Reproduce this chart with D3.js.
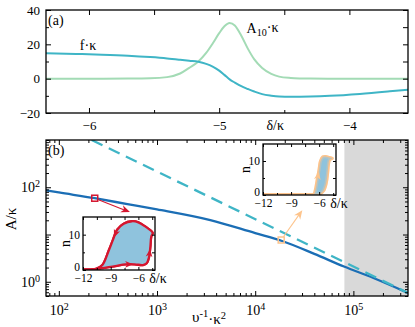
<!DOCTYPE html>
<html>
<head>
<meta charset="utf-8">
<script src="https://cdn.jsdelivr.net/npm/d3@7"></script>
<style>
  body { margin: 0; background: #fff; }
  svg { display: block; font-family: "Liberation Serif", "DejaVu Serif", serif; }
</style>
</head>
<body>
<svg id="chart" width="415" height="327"></svg>
<script>
// ---- panel (a): response vs detuning
const deltaA = [-6.33, -6.1, -5.9, -5.7, -5.53, -5.4, -5.3, -5.23, -5.16, -5.1, -5.05, -5.0, -4.96, -4.92,
                -4.88, -4.83, -4.78, -4.73, -4.67, -4.6, -4.54, -4.45, -4.38, -4.3, -4.15, -3.92, -3.69, -3.55];
const fKappa = [14.8, 14.4, 14.0, 13.4, 12.6, 11.8, 11.0, 10.4, 9.8, 8.6, 7.0, 4.7, 2.2, -0.4,
                -2.3, -4.4, -6.0, -7.5, -9.0, -9.9, -10.4, -10.6, -10.5, -10.4, -10.0, -8.9, -7.4, -6.4];
const a10Kappa = [0, 0, 0, 0.05, 0.2, 0.9, 3.0, 6.3, 10.0, 15.0, 20.5, 26.5, 30.5, 32.4,
                  31.0, 25.0, 17.5, 11.2, 6.2, 2.8, 1.2, 0.4, 0.15, 0.05, 0, 0, 0, 0];
const xTicksA = [-6, -5, -4];
const xMinorA = [-5.5, -4.5];
const yTicksA = [-20, 0, 20, 40];
const yMinorA = [-10, 10, 30];

// ---- panel (b): amplitude vs sweep time
const vSolid = [74, 100, 232, 500, 1000, 3490, 10000, 18800, 40000, 80200, 160000, 360000];
const aSolid = [86, 77.6, 58.6, 44, 34, 20.2, 10.7, 7.3, 3.9, 2.1, 1.2, 0.58];
const vDash = [216, 360000];
const aDash = [1000, 0.58];
const grayStart = 81000;
const xTicksB = [1e2, 1e3, 1e4, 1e5];
const yTicksB = [1, 10, 100];
const yLabelsB = [1, 100];

// markers on the solid curve and where their arrows point
const redMark = {v: 232, a: 58.6, tv: 530, ta: 29.8};
const orangeMark = {v: 18400, a: 7.65, tv: 30200, ta: 32.8};

// ---- insets: hysteresis loops n(delta)
const loop1Delta = [-12, -11.2, -10.6, -10.0, -9.5, -8.5, -7.4, -6.4, -5.5, -5.1, -4.85, -4.7, -4.6, -4.45,
                    -5.3, -6.0, -6.7, -7.6, -8.3, -8.75, -9.2, -9.9, -10.6, -11.2, -12];
const loop1N = [0.2, 0.2, 0.3, 0.5, 0.7, 1.1, 1.6, 1.6, 1.4, 1.9, 3.6, 6.6, 9.5, 10.5,
                12.4, 13.5, 13.8, 13.1, 11.4, 8.6, 5.6, 1.4, 0.3, 0.2, 0.2];
const loop1Arrows = [6, 10, 18];
const loop2Delta = [-12, -9, -6.6, -6.4, -6.2, -6.0, -5.85, -5.6, -5.3, -4.9, -4.6,
                    -4.9, -5.0, -5.1, -5.25, -5.55, -6.0, -6.6, -9, -12];
const loop2N = [0.1, 0.1, 0.1, 1.5, 4.5, 7.5, 10.0, 11.2, 11.3, 11.0, 10.8,
                10.3, 9.2, 6.5, 3.5, 1.2, 0.2, 0.1, 0.1, 0.1];
const loop2Arrows = [4];
const insetXTicks = [-12, -9, -6];
const insetYTicks = [0, 10];

const teal = '#3fb5c6', green = '#a3dbb5', blue = '#1b6eb5', red = '#d5162f', orange = '#fdc48c', fillBlue = '#8fc3dd';

const svg = d3.select('#chart');

function styleAxis(g, size) {
  g.attr('font-family', null).attr('font-size', size);
  g.select('.domain').remove();
  g.selectAll('.tick line').attr('stroke', '#000').attr('stroke-width', 1);
  g.selectAll('.tick text').attr('fill', '#000');
}
function powText(text, exp) {
  text.text(null);
  text.append('tspan').text('10');
  text.append('tspan').attr('dy', '-0.5em').attr('font-size', '0.72em').text(exp);
}
function arrowHead(g, x, y, ang, col, s) {
  g.append('path')
    .attr('d', `M0,0 L${-s},${-s * 0.42} L${-s * 0.7},0 L${-s},${s * 0.42} Z`)
    .attr('transform', `translate(${x},${y}) rotate(${ang * 180 / Math.PI})`)
    .attr('fill', col);
}

// ================= panel (a)
const pa = {l: 46, r: 408, t: 10, b: 113};
const xA = d3.scaleLinear().domain([-6.33, -3.55]).range([pa.l, pa.r]);
const yA = d3.scaleLinear().domain([-20, 40]).range([pa.b, pa.t]);

const gA = svg.append('g');
gA.append('defs').append('clipPath').attr('id', 'clipA')
  .append('rect').attr('x', pa.l).attr('y', pa.t).attr('width', pa.r - pa.l).attr('height', pa.b - pa.t);

const lineF = d3.line().x((d, i) => xA(deltaA[i])).y(d => yA(d)).curve(d3.curveMonotoneX);
gA.append('path').datum(a10Kappa).attr('d', lineF).attr('fill', 'none')
  .attr('stroke', green).attr('stroke-width', 2).attr('clip-path', 'url(#clipA)');
gA.append('path').datum(fKappa).attr('d', lineF).attr('fill', 'none')
  .attr('stroke', teal).attr('stroke-width', 2).attr('clip-path', 'url(#clipA)');

gA.append('g').attr('transform', `translate(0,${pa.b})`)
  .call(d3.axisBottom(xA).tickValues(xTicksA).tickSize(-5).tickPadding(8).tickFormat(d3.format('d')))
  .call(g => styleAxis(g, 13));
gA.append('g').attr('transform', `translate(0,${pa.b})`)
  .call(d3.axisBottom(xA).tickValues(xMinorA).tickSize(-3).tickFormat(''))
  .call(g => styleAxis(g, 13));
gA.append('g').attr('transform', `translate(0,${pa.t})`)
  .call(d3.axisTop(xA).tickValues(xTicksA.concat(xMinorA)).tickSize(-5).tickFormat(''))
  .call(g => styleAxis(g, 13));
gA.append('g').attr('transform', `translate(${pa.l},0)`)
  .call(d3.axisLeft(yA).tickValues(yTicksA).tickSize(-5).tickPadding(6).tickFormat(d3.format('d')))
  .call(g => styleAxis(g, 13));
gA.append('g').attr('transform', `translate(${pa.l},0)`)
  .call(d3.axisLeft(yA).tickValues(yMinorA).tickSize(-3).tickFormat(''))
  .call(g => styleAxis(g, 13));
gA.append('g').attr('transform', `translate(${pa.r},0)`)
  .call(d3.axisRight(yA).tickValues(yTicksA.concat(yMinorA)).tickSize(-5).tickFormat(''))
  .call(g => styleAxis(g, 13));
gA.append('rect').attr('x', pa.l).attr('y', pa.t).attr('width', pa.r - pa.l).attr('height', pa.b - pa.t)
  .attr('fill', 'none').attr('stroke', '#000').attr('stroke-width', 1.3);

gA.append('text').attr('x', pa.l + 2).attr('y', pa.t + 15).attr('font-size', 14).text('(a)');
gA.append('text').attr('x', xA(-4.57)).attr('y', pa.b + 17).attr('font-size', 14)
  .attr('text-anchor', 'middle').text('δ/κ');
gA.append('text').attr('x', xA(-6.07)).attr('y', yA(16.8)).attr('font-size', 14).text('f·κ');
const a10 = gA.append('text').attr('x', xA(-4.79)).attr('y', yA(26.5)).attr('font-size', 14);
a10.append('tspan').text('A');
a10.append('tspan').attr('dy', '0.3em').attr('font-size', '0.72em').text('10');
a10.append('tspan').attr('dy', '-0.3em').text('·κ');

// ================= panel (b)
const pb = {l: 46, r: 408, t: 140, b: 296};
const xB = d3.scaleLog().domain([74, 3.6e5]).range([pb.l, pb.r]);
const yB = d3.scaleLog().domain([0.5, 1000]).range([pb.b, pb.t]);

const gB = svg.append('g');
gB.append('defs').append('clipPath').attr('id', 'clipB')
  .append('rect').attr('x', pb.l).attr('y', pb.t).attr('width', pb.r - pb.l).attr('height', pb.b - pb.t);

gB.append('rect').attr('x', xB(grayStart)).attr('y', pb.t)
  .attr('width', xB(xB.domain()[1]) - xB(grayStart)).attr('height', pb.b - pb.t).attr('fill', '#d9d9d9');

const lineB = d3.line().x(d => xB(d[0])).y(d => yB(d[1])).curve(d3.curveMonotoneX);
gB.append('path').datum(d3.zip(vSolid, aSolid)).attr('d', lineB).attr('fill', 'none')
  .attr('stroke', blue).attr('stroke-width', 2.3).attr('clip-path', 'url(#clipB)');
gB.append('path').datum(d3.zip(vDash, aDash)).attr('d', lineB).attr('fill', 'none')
  .attr('stroke', teal).attr('stroke-width', 2.3).attr('stroke-dasharray', '12,7')
  .attr('clip-path', 'url(#clipB)');

const minorX = xB.ticks().filter(d => !xTicksB.includes(d));
const minorY = yB.ticks().filter(d => !yTicksB.includes(d));

gB.append('g').attr('transform', `translate(0,${pb.b})`)
  .call(d3.axisBottom(xB).tickValues(xTicksB).tickSize(-5).tickPadding(9))
  .call(g => styleAxis(g, 14))
  .call(g => g.selectAll('.tick text').each(function (d) { powText(d3.select(this), Math.round(Math.log10(d))); }));
gB.append('g').attr('transform', `translate(0,${pb.b})`)
  .call(d3.axisBottom(xB).tickValues(minorX).tickSize(-3).tickFormat(''))
  .call(g => styleAxis(g, 14));
gB.append('g').attr('transform', `translate(0,${pb.t})`)
  .call(d3.axisTop(xB).tickValues(xTicksB).tickSize(-5).tickFormat(''))
  .call(g => styleAxis(g, 14));
gB.append('g').attr('transform', `translate(0,${pb.t})`)
  .call(d3.axisTop(xB).tickValues(minorX).tickSize(-3).tickFormat(''))
  .call(g => styleAxis(g, 14));
gB.append('g').attr('transform', `translate(${pb.l},0)`)
  .call(d3.axisLeft(yB).tickValues(yTicksB).tickSize(-5).tickPadding(6))
  .call(g => styleAxis(g, 14))
  .call(g => g.selectAll('.tick text').each(function (d) {
    if (yLabelsB.includes(d)) powText(d3.select(this), Math.round(Math.log10(d)));
    else d3.select(this).text(null);
  }));
gB.append('g').attr('transform', `translate(${pb.l},0)`)
  .call(d3.axisLeft(yB).tickValues(minorY).tickSize(-3).tickFormat(''))
  .call(g => styleAxis(g, 14));
gB.append('g').attr('transform', `translate(${pb.r},0)`)
  .call(d3.axisRight(yB).tickValues(yTicksB).tickSize(-5).tickFormat(''))
  .call(g => styleAxis(g, 14));
gB.append('g').attr('transform', `translate(${pb.r},0)`)
  .call(d3.axisRight(yB).tickValues(minorY).tickSize(-3).tickFormat(''))
  .call(g => styleAxis(g, 14));
gB.append('rect').attr('x', pb.l).attr('y', pb.t).attr('width', pb.r - pb.l).attr('height', pb.b - pb.t)
  .attr('fill', 'none').attr('stroke', '#000').attr('stroke-width', 1.3);

gB.append('text').attr('x', pb.l + 2).attr('y', pb.t + 15).attr('font-size', 14).text('(b)');
gB.append('text').attr('transform', `translate(16,${(pb.t + pb.b) / 2 + 1}) rotate(-90)`)
  .attr('font-size', 15).attr('text-anchor', 'middle').text('A/κ');
const xl = gB.append('text').attr('x', 209).attr('y', 322).attr('font-size', 15).attr('text-anchor', 'middle');
xl.append('tspan').text('υ');
xl.append('tspan').attr('dy', '-0.5em').attr('font-size', '0.7em').text('-1');
xl.append('tspan').attr('dy', '0.5em').text('·κ');
xl.append('tspan').attr('dy', '-0.5em').attr('font-size', '0.7em').text('2');

// marker squares + arrows to insets
function markArrow(m, col, sq) {
  const x0 = xB(m.v), y0 = yB(m.a), x1 = xB(m.tv), y1 = yB(m.ta);
  const ang = Math.atan2(y1 - y0, x1 - x0);
  const off = sq / 2 + 1;
  gB.append('line').attr('x1', x0 + off * Math.cos(ang)).attr('y1', y0 + off * Math.sin(ang))
    .attr('x2', x1 - 4 * Math.cos(ang)).attr('y2', y1 - 4 * Math.sin(ang))
    .attr('stroke', col).attr('stroke-width', 1.1);
  arrowHead(gB, x1, y1, ang, col, 9);
  gB.append('rect').attr('x', x0 - sq / 2).attr('y', y0 - sq / 2).attr('width', sq).attr('height', sq)
    .attr('fill', 'none').attr('stroke', col).attr('stroke-width', 1.5);
}
markArrow(redMark, red, 6);
markArrow(orangeMark, orange, 6);

// ================= insets
function inset(box, dArr, nArr, col, lw, arrows, id) {
  const g = svg.append('g');
  const xI = d3.scaleLinear().domain([-12, -4.2]).range([box.l, box.r]);
  const yI = d3.scaleLinear().domain([0, 15]).range([box.b, box.t]);
  g.append('rect').attr('x', box.l).attr('y', box.t).attr('width', box.r - box.l).attr('height', box.b - box.t)
    .attr('fill', '#fff');
  g.append('defs').append('clipPath').attr('id', id)
    .append('rect').attr('x', box.l).attr('y', box.t - 2).attr('width', box.r - box.l).attr('height', box.b - box.t + 2);
  const pts = d3.zip(dArr, nArr);
  const line = d3.line().x(d => xI(d[0])).y(d => yI(d[1])).curve(d3.curveCatmullRom.alpha(0.5));
  const inner = g.append('g').attr('clip-path', `url(#${id})`);
  inner.append('path').datum(pts).attr('d', line).attr('fill', 'none').attr('stroke', col)
    .attr('stroke-width', lw).attr('stroke-linejoin', 'round');
  inner.append('path').datum(pts).attr('d', line).attr('fill', fillBlue).attr('stroke', 'none');
  inner.append('path').datum(pts).attr('d', line).attr('fill', 'none').attr('stroke', col)
    .attr('stroke-width', lw).attr('stroke-linejoin', 'round').attr('stroke-opacity', col === red ? 1 : 0.35);
  arrows.forEach(i => {
    const x0 = xI(pts[i][0]), y0 = yI(pts[i][1]), x1 = xI(pts[i + 1][0]), y1 = yI(pts[i + 1][1]);
    const ang = Math.atan2(y1 - y0, x1 - x0);
    arrowHead(g, (x0 + x1) / 2 + 3 * Math.cos(ang), (y0 + y1) / 2 + 3 * Math.sin(ang), ang, col, 8);
  });

  g.append('g').attr('transform', `translate(0,${box.b})`)
    .call(d3.axisBottom(xI).tickValues(insetXTicks).tickSize(-3).tickPadding(4).tickFormat(d3.format('d')))
    .call(a => styleAxis(a, 11.5));
  g.append('g').attr('transform', `translate(0,${box.b})`)
    .call(d3.axisBottom(xI).tickValues([-10.5, -7.5, -4.5]).tickSize(-2).tickFormat(''))
    .call(a => styleAxis(a, 11.5));
  g.append('g').attr('transform', `translate(0,${box.t})`)
    .call(d3.axisTop(xI).tickValues(insetXTicks.concat([-10.5, -7.5, -4.5])).tickSize(-3).tickFormat(''))
    .call(a => styleAxis(a, 11.5));
  g.append('g').attr('transform', `translate(${box.l},0)`)
    .call(d3.axisLeft(yI).tickValues(insetYTicks).tickSize(-3).tickPadding(3).tickFormat(d3.format('d')))
    .call(a => styleAxis(a, 11.5))
    .call(a => a.selectAll('.tick text').attr('dy', d => d === 0 ? '0.05em' : '0.32em'));
  g.append('g').attr('transform', `translate(${box.l},0)`)
    .call(d3.axisLeft(yI).tickValues([5]).tickSize(-2).tickFormat(''))
    .call(a => styleAxis(a, 11.5));
  g.append('g').attr('transform', `translate(${box.r},0)`)
    .call(d3.axisRight(yI).tickValues([0, 5, 10]).tickSize(-3).tickFormat(''))
    .call(a => styleAxis(a, 11.5));
  g.append('rect').attr('x', box.l).attr('y', box.t).attr('width', box.r - box.l).attr('height', box.b - box.t)
    .attr('fill', 'none').attr('stroke', '#000').attr('stroke-width', 1.3);
  g.append('text').attr('x', box.r + 3).attr('y', box.b + 13).attr('font-size', 14)
    .attr('text-anchor', 'middle').text('δ/κ');
  g.append('text').attr('transform', `translate(${box.l - 13},${(box.t + box.b) / 2}) rotate(-90)`)
    .attr('font-size', 14).attr('text-anchor', 'middle').text('n');
}
inset({l: 83, r: 155, t: 217, b: 270}, loop1Delta, loop1N, red, 2.3, loop1Arrows, 'clipI1');
inset({l: 263, r: 336, t: 144, b: 195}, loop2Delta, loop2N, orange, 3.2, loop2Arrows, 'clipI2');
</script>
</body>
</html>
